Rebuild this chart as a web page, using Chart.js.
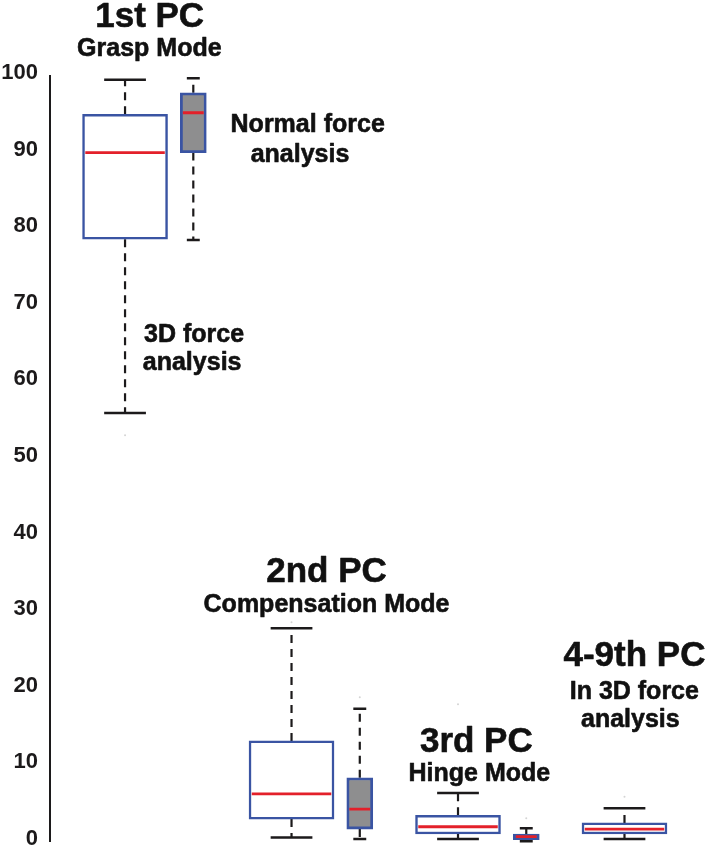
<!DOCTYPE html>
<html><head><meta charset="utf-8">
<script src="https://cdn.jsdelivr.net/npm/chart.js@4.4.1/dist/chart.umd.min.js"></script>
<style>html,body{margin:0;padding:0;background:#fff}</style>
</head><body>
<canvas id="c" width="709" height="846"></canvas>
<script>
// ---------- data ----------
const groups = ['1st PC', '2nd PC', '3rd PC', '4-9th PC'];
const modes = ['Grasp Mode', 'Compensation Mode', 'Hinge Mode', 'In 3D force analysis'];
// 3D force analysis (white boxes), one entry per PC group
const min3D = [55.6, 0.2, 0.0, 0.0];
const q1_3D = [78.3, 2.6, 0.65, 0.65];
const med3D = [89.6, 5.9, 1.6, 1.3];
const q3_3D = [94.6, 12.8, 3.1, 2.1];
const max3D = [99.1, 27.5, 6.0, 4.0];
const out3D = [[52.7], [28.3], [17.6], [5.5]];
// Normal force analysis (grey boxes), first three PCs
const minN = [78.2, 0.0, -0.3];
const q1N = [89.6, 1.3, -0.1];
const medN = [94.8, 3.9, 0.3];
const q3N = [97.4, 8.0, 0.65];
const maxN = [99.3, 17.0, 1.4];
const outN = [[], [18.5], [2.7]];
const yTicks = [0, 10, 20, 30, 40, 50, 60, 70, 80, 90, 100];

// ---------- layout / style ----------
const PX_PER_UNIT = 167.5;
const X_MIN = -75.5 / PX_PER_UNIT;
const X_MAX = X_MIN + 659 / PX_PER_UNIT;
const OFFSET_N = 0.41;
const W_3D = 85, W_N = 26;
const CAP_3D = 21 / PX_PER_UNIT, CAP_N = 6.5 / PX_PER_UNIT;
const MED_3D = 40 / PX_PER_UNIT, MED_N = 10.5 / PX_PER_UNIT;
const BLUE = '#3a54a3', RED = '#e3202a', GREY = '#8e8e8f', INK = '#1c1a1b';
const FONT = '"Liberation Sans", Arial, Helvetica, sans-serif';

const pos3D = groups.map((g, i) => i);
const posN = q1N.map((v, i) => i + OFFSET_N);

function segs(pos, a, b) {
  const out = [];
  pos.forEach((x, i) => { out.push({x, y: a[i]}, {x, y: b[i]}, {x, y: null}); });
  return out;
}
function hsegs(pos, vals, half) {
  const out = [];
  pos.forEach((x, i) => { out.push({x: x - half, y: vals[i]}, {x: x + half, y: vals[i]}, {x: x, y: null}); });
  return out;
}
const whiskerData = [
  ...segs(pos3D, q3_3D, max3D), ...segs(pos3D, q1_3D, min3D),
  ...segs(posN, q3N, maxN), ...segs(posN, q1N, minN)
];
const capData = [...hsegs(pos3D, max3D, CAP_3D), ...hsegs(pos3D, min3D, CAP_3D),
                 ...hsegs(posN, maxN, CAP_N), ...hsegs(posN, minN, CAP_N)];
const medData = [...hsegs(pos3D, med3D, MED_3D), ...hsegs(posN, medN, MED_N)];
const outData = [];
out3D.forEach((arr, i) => arr.forEach(v => outData.push({x: pos3D[i], y: v})));
outN.forEach((arr, i) => arr.forEach(v => outData.push({x: posN[i], y: v})));

// annotation texts (positions in data units)
const annotations = [
  {t: groups[0], big: true, x: 0.148, y: 106.0},
  {t: modes[0], x: 0.146, y: 102.2},
  {t: 'Normal force', x: 1.097, y: 92.3},
  {t: 'analysis', x: 1.051, y: 88.4},
  {t: '3D force', x: 0.415, y: 64.9},
  {t: 'analysis', x: 0.403, y: 61.2},
  {t: groups[1], big: true, x: 1.21, y: 33.55},
  {t: modes[1], x: 1.21, y: 29.6},
  {t: groups[2], big: true, x: 2.11, y: 11.36},
  {t: modes[2], x: 2.128, y: 7.57},
  {t: groups[3], big: true, x: 3.06, y: 22.6},
  {t: 'In 3D force', x: 3.059, y: 18.3},
  {t: 'analysis', x: 3.035, y: 14.6}
];

const textPlugin = {
  id: 'texts',
  afterDatasetsDraw(chart) {
    const {ctx, scales: {x, y}} = chart;
    ctx.save();
    ctx.fillStyle = '#111';
    ctx.strokeStyle = '#111';
    ctx.lineWidth = 0.6;
    ctx.lineJoin = 'round';
    ctx.textAlign = 'center';
    ctx.textBaseline = 'alphabetic';
    annotations.forEach(a => {
      ctx.font = 'bold ' + (a.big ? 35 : 25) + 'px ' + FONT;
      const px = x.getPixelForValue(a.x), py = y.getPixelForValue(a.y);
      ctx.fillText(a.t, px, py);
      ctx.strokeText(a.t, px, py);
    });
    ctx.restore();
  }
};

new Chart(document.getElementById('c'), {
  type: 'bar',
  data: {
    datasets: [
      {type: 'line', label: 'median', data: medData, borderColor: RED, borderWidth: 2.8,
       pointRadius: 0, spanGaps: false, order: 0, clip: false},
      {type: 'bar', label: '3D force analysis', data: pos3D.map((x, i) => ({x, y: [q1_3D[i], q3_3D[i]]})),
       backgroundColor: '#ffffff', borderColor: BLUE, borderWidth: 2.5, borderSkipped: false,
       barThickness: W_3D, grouped: false, order: 1, clip: false},
      {type: 'bar', label: 'Normal force analysis', data: posN.map((x, i) => ({x, y: [q1N[i], q3N[i]]})),
       backgroundColor: GREY, borderColor: BLUE, borderWidth: 2.8, borderSkipped: false,
       barThickness: W_N, grouped: false, order: 1, clip: false},
      {type: 'line', label: 'whiskers', data: whiskerData, borderColor: INK, borderWidth: 2.2,
       borderDash: [8, 6], pointRadius: 0, spanGaps: false, order: 2, clip: false},
      {type: 'line', label: 'caps', data: capData, borderColor: INK, borderWidth: 2.5,
       pointRadius: 0, spanGaps: false, order: 2, clip: false},
      {type: 'scatter', label: 'outliers', data: outData, pointRadius: 1, pointBorderWidth: 0,
       pointBackgroundColor: '#d4d4d4', showLine: false, order: 3, clip: false}
    ]
  },
  options: {
    responsive: false,
    animation: false,
    devicePixelRatio: 1,
    layout: {padding: {top: 76, bottom: 5, left: 0, right: 0}},
    plugins: {legend: {display: false}, tooltip: {enabled: false}},
    scales: {
      x: {type: 'linear', display: false, min: X_MIN, max: X_MAX, offset: false},
      y: {
        type: 'linear', min: -0.26, max: 99.6,
        afterBuildTicks(scale) { scale.ticks = yTicks.map(v => ({value: v})); },
        afterFit(scale) {
          scale.width = 50;
          scale.paddingTop = 0; scale.paddingBottom = 0;
        },
        grid: {display: true, drawOnChartArea: false, drawTicks: false},
        border: {display: true, color: INK, width: 2},
        ticks: {padding: 12, color: INK, font: {family: FONT, size: 22, weight: 'bold'}}
      }
    }
  },
  plugins: [textPlugin]
});
</script>
</body></html>
